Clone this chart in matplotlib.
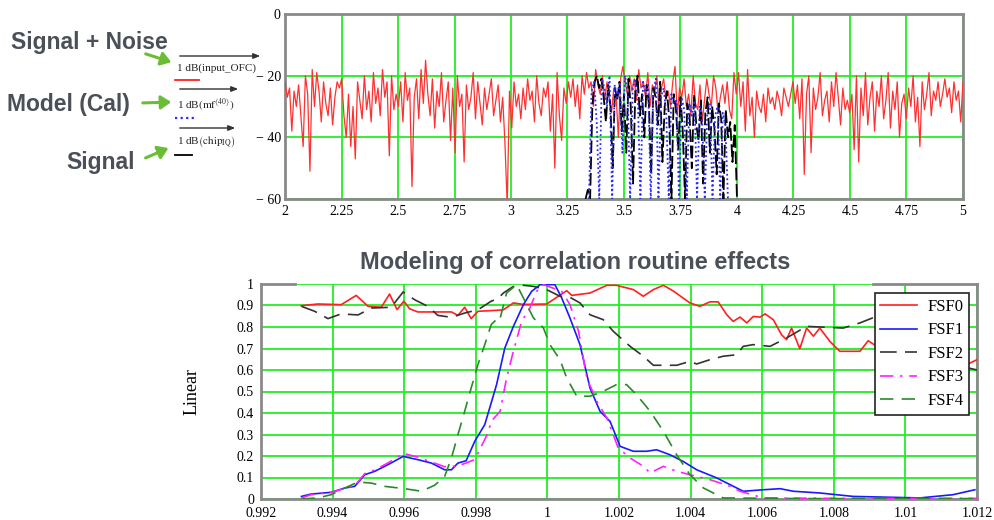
import matplotlib
matplotlib.use("Agg")
import matplotlib.pyplot as plt
import numpy as np

plt.rcParams['mathtext.fontset'] = 'stix'
SERIF = ['Liberation Serif', 'DejaVu Serif']
SANS = ['Liberation Sans', 'DejaVu Sans']

# ---------------- top panel data (dB) ----------------
noise_db = [
    -22, -27, -24, -38, -25, -30, -23, -33, -43, -20, -26, -51, -18, -30, -19, -25, -35, -22, -29, -33, -24, -36, -27, -22, -24,
    -21, -33, -40, -26, -43, -30, -47, -22, -28, -34, -20, -31, -25, -35, -19, -29, -24, -33, -18, -27, -22, -46, -20, -31, -26,
    -30, -22, -35, -19, -28, -24, -56, -27, -21, -34, -18, -29, -15, -26, -33, -21, -37, -25, -30, -19, -35, -28, -22, -41, -24,
    -45, -20, -30, -26, -48, -23, -31, -27, -19, -34, -22, -29, -36, -24, -31, -26, -21, -33, -28, -23, -35, -27, -42, -62, -25,
    -37, -22, -30, -26, -34, -24, -31, -21, -28, -25, -35, -20, -29, -33, -24, -27, -22, -38, -26, -50, -19, -33, -41, -24, -29,
    -22, -27, -21, -30, -23, -34, -20, -26, -19, -24, -22, -30, -18, -23, -26, -20, -28, -22, -27, -32, -24, -26, -40, -21, -17,
    -22, -26, -20, -25, -21, -28, -18, -24, -22, -27, -19, -30, -23, -26, -20, -32, -24, -21, -28, -25, -30, -22, -17, -33, -24,
    -27, -21, -30, -26, -33, -20, -29, -31, -23, -35, -28, -21, -26, -30, -20, -24, -32, -27, -23, -29, -22, -31, -34, -19, -26,
    -19, -30, -22, -38, -18, -33, -27, -40, -25, -30, -32, -26, -35, -24, -29, -27, -31, -25, -28, -33, -24, -27, -30, -26, -22,
    -29, -23, -34, -21, -52, -26, -20, -45, -24, -31, -27, -19, -33, -28, -25, -35, -22, -30, -19, -27, -36, -24, -31, -28, -32,
    -26, -44, -20, -48, -24, -33, -19, -36, -27, -22, -38, -25, -30, -20, -34, -28, -19, -37, -25, -31, -22, -40, -29, -26, -34,
    -24, -30, -20, -35, -27, -43, -22, -31, -26, -19, -33, -25, -28, -22, -30, -26, -21, -27, -24, -32, -22, -28, -25, -35, -22,
]
signal_db = [
    -60, -57, -60, -30, -22, -20, -24, -21, -27, -35, -23, -30, -50, -24, -28, -22, -38, -26, -45, -21,
    -30, -55, -25, -20, -33, -26, -40, -23, -29, -52, -24, -27, -36, -22, -48, -30, -25, -34, -60, -26,
    -31, -44, -27, -38, -60, -29, -33, -50, -26, -36, -41, -28, -55, -32, -27, -45, -30, -37, -52, -29,
    -34, -60, -31, -40, -35, -48, -36, -60,
]
model_db = [
    -60, -25, -22, -35, -60, -21, -24, -30, -20, -60, -23, -27, -22, -45, -20, -25, -60, -24, -21, -28,
    -60, -22, -26, -23, -60, -25, -21, -60, -27, -24, -32, -60, -26, -29, -28, -60, -27, -31, -60, -29,
    -33, -28, -60, -30, -35, -60, -31, -29, -60, -33, -30, -60, -32, -36, -60,
]
top_yticks = [-60, -40, -20, 0]
top_yticklabels = ['\u2212 60', '\u2212 40', '\u2212 20', '0']
top_xticks = [2, 2.25, 2.5, 2.75, 3, 3.25, 3.5, 3.75, 4, 4.25, 4.5, 4.75, 5]

# ---------------- bottom panel data (linear) ----------------
fsf0_x = [0.99312, 0.99359, 0.99424, 0.99466, 0.99499, 0.99536, 0.99559, 0.99580, 0.99599, 0.99615,
          0.99638, 0.99732, 0.99750, 0.99769, 0.99787, 0.99806, 0.99862, 0.99877, 0.99905, 0.99933,
          0.99998, 1.00026, 1.00054, 1.00068, 1.00119, 1.00166, 1.00193, 1.00240, 1.00268, 1.00296,
          1.00324, 1.00352, 1.00398, 1.00426, 1.00454, 1.00477, 1.00501, 1.00519, 1.00538, 1.00557,
          1.00575, 1.00594, 1.00608, 1.00631, 1.00654, 1.00668, 1.00682, 1.00705, 1.00724, 1.00743,
          1.00761, 1.00789, 1.00817, 1.00873, 1.00896, 1.00920, 1.00950, 1.01000, 1.01050, 1.01100,
          1.01150, 1.01171, 1.01200]
fsf0_y = [0.899, 0.907, 0.904, 0.947, 0.896, 0.892, 0.953, 0.881, 0.920, 0.885,
          0.870, 0.870, 0.854, 0.892, 0.839, 0.873, 0.878, 0.880, 0.912, 0.905,
          0.907, 0.938, 0.969, 0.947, 0.958, 0.994, 0.994, 0.974, 0.943, 0.974,
          0.994, 0.967, 0.912, 0.896, 0.917, 0.917, 0.857, 0.826, 0.846, 0.819,
          0.849, 0.846, 0.861, 0.834, 0.764, 0.741, 0.795, 0.699, 0.795, 0.757,
          0.795, 0.733, 0.687, 0.687, 0.736, 0.710, 0.720, 0.700, 0.680, 0.660,
          0.630, 0.625, 0.648]

fsf1_x = [0.99313, 0.99340, 0.99396, 0.99434, 0.99462, 0.99490, 0.99518, 0.99555, 0.99597, 0.99638,
          0.99676, 0.99713, 0.99732, 0.99750, 0.99773, 0.99797, 0.99825, 0.99843, 0.99858, 0.99881,
          0.99905, 0.99933, 0.99956, 0.99980, 1.00021, 1.00040, 1.00063, 1.00091, 1.00119, 1.00147,
          1.00175, 1.00203, 1.00240, 1.00277, 1.00305, 1.00342, 1.00379, 1.00417, 1.00473, 1.00510,
          1.00547, 1.00603, 1.00650, 1.00687, 1.00761, 1.00854, 1.01040, 1.01133, 1.01194]
fsf1_y = [0.012, 0.023, 0.031, 0.051, 0.059, 0.113, 0.129, 0.160, 0.198, 0.183,
          0.167, 0.136, 0.136, 0.167, 0.178, 0.268, 0.346, 0.447, 0.532, 0.702,
          0.803, 0.904, 0.966, 0.997, 0.997, 0.935, 0.842, 0.718, 0.516, 0.408,
          0.361, 0.245, 0.222, 0.222, 0.229, 0.206, 0.175, 0.136, 0.098, 0.067,
          0.036, 0.043, 0.048, 0.036, 0.028, 0.012, 0.005, 0.020, 0.043]

fsf2_x = [0.99313, 0.99350, 0.99387, 0.99424, 0.99471, 0.99508, 0.99564, 0.99597, 0.99629, 0.99666,
          0.99694, 0.99732, 0.99769, 0.99806, 0.99843, 0.99862, 0.99877, 0.99905, 0.99933, 0.99961,
          0.99998, 1.00035, 1.00063, 1.00091, 1.00119, 1.00156, 1.00184, 1.00231, 1.00268, 1.00296,
          1.00361, 1.00398, 1.00417, 1.00454, 1.00491, 1.00529, 1.00547, 1.00575, 1.00622, 1.00668,
          1.00724, 1.00826, 1.00873, 1.00920, 1.00950, 1.01000, 1.01050, 1.01100, 1.01150, 1.01200]
fsf2_y = [0.896, 0.873, 0.839, 0.861, 0.856, 0.888, 0.892, 0.963, 0.927, 0.896,
          0.854, 0.845, 0.865, 0.880, 0.920, 0.932, 0.958, 0.989, 0.994, 0.989,
          0.974, 0.943, 0.938, 0.912, 0.857, 0.834, 0.780, 0.710, 0.664, 0.622,
          0.622, 0.640, 0.628, 0.648, 0.664, 0.671, 0.710, 0.718, 0.710, 0.749,
          0.803, 0.795, 0.819, 0.850, 0.840, 0.790, 0.720, 0.660, 0.620, 0.600]

fsf3_x = [0.99313, 0.99340, 0.99396, 0.99434, 0.99462, 0.99490, 0.99518, 0.99555, 0.99597, 0.99638,
          0.99676, 0.99713, 0.99750, 0.99797, 0.99834, 0.99843, 0.99868, 0.99886, 0.99905, 0.99928,
          0.99951, 0.99970, 0.99989, 1.00040, 1.00063, 1.00087, 1.00110, 1.00138, 1.00166, 1.00198,
          1.00231, 1.00268, 1.00287, 1.00324, 1.00361, 1.00398, 1.00454, 1.00510, 1.00538, 1.00603,
          1.00800, 1.01000, 1.01200]
fsf3_y = [0.005, 0.020, 0.030, 0.050, 0.062, 0.118, 0.135, 0.168, 0.212, 0.195,
          0.172, 0.150, 0.153, 0.183, 0.307, 0.361, 0.408, 0.563, 0.687, 0.826,
          0.888, 0.966, 0.997, 0.966, 0.904, 0.780, 0.563, 0.454, 0.377, 0.237,
          0.191, 0.152, 0.121, 0.152, 0.129, 0.113, 0.090, 0.059, 0.036, 0.005,
          0.003, 0.003, 0.003]

fsf4_x = [0.99313, 0.99359, 0.99396, 0.99434, 0.99471, 0.99508, 0.99545, 0.99601, 0.99648, 0.99685,
          0.99713, 0.99732, 0.99750, 0.99769, 0.99787, 0.99806, 0.99825, 0.99843, 0.99862, 0.99867,
          0.99886, 0.99914, 0.99933, 0.99961, 0.99989, 1.00007, 1.00035, 1.00054, 1.00082, 1.00119,
          1.00156, 1.00193, 1.00221, 1.00249, 1.00287, 1.00324, 1.00361, 1.00398, 1.00436, 1.00491,
          1.00700, 1.00900, 1.01200]
fsf4_y = [0.000, 0.005, 0.020, 0.051, 0.079, 0.074, 0.059, 0.048, 0.036, 0.064,
          0.105, 0.191, 0.299, 0.408, 0.516, 0.625, 0.718, 0.811, 0.842, 0.834,
          0.958, 0.997, 0.935, 0.842, 0.795, 0.718, 0.648, 0.563, 0.478, 0.478,
          0.501, 0.532, 0.532, 0.485, 0.408, 0.315, 0.206, 0.113, 0.051, 0.005,
          0.002, 0.002, 0.002]

bottom_xticks = [0.992, 0.994, 0.996, 0.998, 1.0, 1.002, 1.004, 1.006, 1.008, 1.01, 1.012]
bottom_yticks = [0, 0.1, 0.2, 0.3, 0.4, 0.5, 0.6, 0.7, 0.8, 0.9, 1]

GRID = '#22ee22'
FRAME = '#8a8a8a'
ANN = '#4b5058'
ARROW = '#6cbd36'

W, H = 994, 520
fig = plt.figure(figsize=(W / 100, H / 100), dpi=100)


def fx(px):
    return px / W


def fy(py):
    return 1 - py / H


# ---------------- top panel ----------------
ax1 = fig.add_axes([fx(285), fy(199), fx(963) - fx(285), fy(14) - fy(199)])
ax1.plot(np.linspace(2, 5, len(noise_db)), noise_db, color='#ff3030', lw=0.9, zorder=3)
ax1.plot(np.linspace(3.33, 4.0, len(signal_db)), signal_db, color='black', lw=1.3,
         dashes=(7, 2), zorder=4)
ax1.plot(np.linspace(3.345, 3.96, len(model_db)), model_db, color='#2a2aff', lw=1.3,
         linestyle=(0, (1, 1.5)), zorder=5)
ax1.set_xlim(2, 5)
ax1.set_ylim(-60, 0)
ax1.set_xticks(top_xticks)
ax1.set_xticklabels(['{:g}'.format(t) for t in top_xticks])
ax1.set_yticks(top_yticks)
ax1.set_yticklabels(top_yticklabels)

# ---------------- bottom panel ----------------
ax2 = fig.add_axes([fx(261), fy(499), fx(977) - fx(261), fy(284) - fy(499)])
ax2.plot(fsf0_x, fsf0_y, color='#ff2020', lw=1.2, label='FSF0', zorder=4)
ax2.plot(fsf1_x, fsf1_y, color='#1a1aff', lw=1.2, label='FSF1', zorder=4)
ax2.plot(fsf2_x, fsf2_y, color='#333333', lw=1.2, dashes=(10, 5), label='FSF2', zorder=4)
ax2.plot(fsf3_x, fsf3_y, color='#ff22ff', lw=1.2, dashes=(8, 4, 1.5, 4), label='FSF3', zorder=4)
ax2.plot(fsf4_x, fsf4_y, color='#2a8a2a', lw=1.2, dashes=(8, 5), label='FSF4', zorder=4)
ax2.set_xlim(0.992, 1.012)
ax2.set_ylim(0, 1)
ax2.set_xticks(bottom_xticks)
ax2.set_xticklabels(['{:g}'.format(t) for t in bottom_xticks])
ax2.set_yticks(bottom_yticks)
ax2.set_yticklabels(['{:g}'.format(t) for t in bottom_yticks])
ax2.set_ylabel('Linear', family=SERIF, fontsize=13, labelpad=26)

leg = ax2.legend(loc='upper right', bbox_to_anchor=(0.989, 0.958), borderaxespad=0,
                 prop={'family': SERIF, 'size': 12}, fancybox=False, framealpha=1,
                 edgecolor='#222222', handlelength=2.2, labelspacing=0.45,
                 borderpad=0.35, handletextpad=0.6)
leg.get_frame().set_linewidth(1.2)
leg.set_zorder(10)

for ax in (ax1, ax2):
    ax.grid(True, color=GRID, lw=1.3, zorder=1)
    ax.set_axisbelow(True)
    ax.tick_params(length=0, labelsize=10, pad=4)
    for lab in ax.get_xticklabels() + ax.get_yticklabels():
        lab.set_family(SERIF)
    for sp in ax.spines.values():
        sp.set_color(FRAME)
        sp.set_linewidth(2)
ax1.tick_params(axis='y', pad=3)
ax2.tick_params(axis='x', pad=6)
ax2.tick_params(axis='y', pad=5)

# bottom panel top border is only partly drawn
ax2.spines['top'].set_visible(False)
for x0, x1 in ((0, 0.048), (0.855, 1)):
    ax2.plot([x0, x1], [1, 1], transform=ax2.transAxes, color=FRAME, lw=2,
             clip_on=False, zorder=6)

# ---------------- annotations ----------------
fig.text(fx(11), fy(42), 'Signal + Noise', family=SANS, weight='bold', fontsize=16.5,
         color=ANN, va='center', ha='left')
fig.text(fx(7), fy(105), 'Model (Cal)', family=SANS, weight='bold', fontsize=16.5,
         color=ANN, va='center', ha='left')
fig.text(fx(66), fy(162), 'Signal', family=SANS, weight='bold', fontsize=16.5,
         color=ANN, va='center', ha='left')

for (x0, y0), (x1, y1) in (((143, 53), (174, 63)), ((140, 103), (174, 102)),
                            ((143, 159), (171, 147))):
    fig.add_artist(matplotlib.patches.FancyArrowPatch(
        (fx(x0), fy(y0)), (fx(x1), fy(y1)), transform=fig.transFigure,
        arrowstyle='-|>,head_length=6,head_width=4', color=ARROW, lw=2.2))

legend_rows = [
    ('1 dB(input_OFC)', 68, 56, 263, 80, 199, dict(color='#ff2020', lw=1.3)),
    (r'1 dB$\left(\mathrm{mf}^{\langle 40\rangle}\right)$', 105, 89, 241, 118, 195,
     dict(color='#2a2aff', lw=1.6, linestyle=(0, (1, 1.5)))),
    (r'1 dB$\left(\mathrm{chip}_{\mathrm{IQ}}\right)$', 142, 128, 238, 155, 192,
     dict(color='black', lw=1.3)),
]
for text, ty, ay, ax_end, ly, lx_end, style in legend_rows:
    fig.text(fx(177), fy(ty), text, family=SERIF, fontsize=8, va='center', ha='left',
             color='#222222')
    fig.add_artist(matplotlib.patches.FancyArrowPatch(
        (fx(177), fy(ay)), (fx(ax_end), fy(ay)), transform=fig.transFigure,
        arrowstyle='-|>,head_length=4,head_width=1.6', color='#333333', lw=1.0))
    fig.add_artist(matplotlib.lines.Line2D([fx(175), fx(lx_end)], [fy(ly), fy(ly)],
                                           transform=fig.transFigure, **style))

fig.text(fx(575), fy(262), 'Modeling of correlation routine effects', family=SANS,
         weight='bold', fontsize=17, color=ANN, ha='center', va='center')

fig.savefig('out.png', dpi=100)
